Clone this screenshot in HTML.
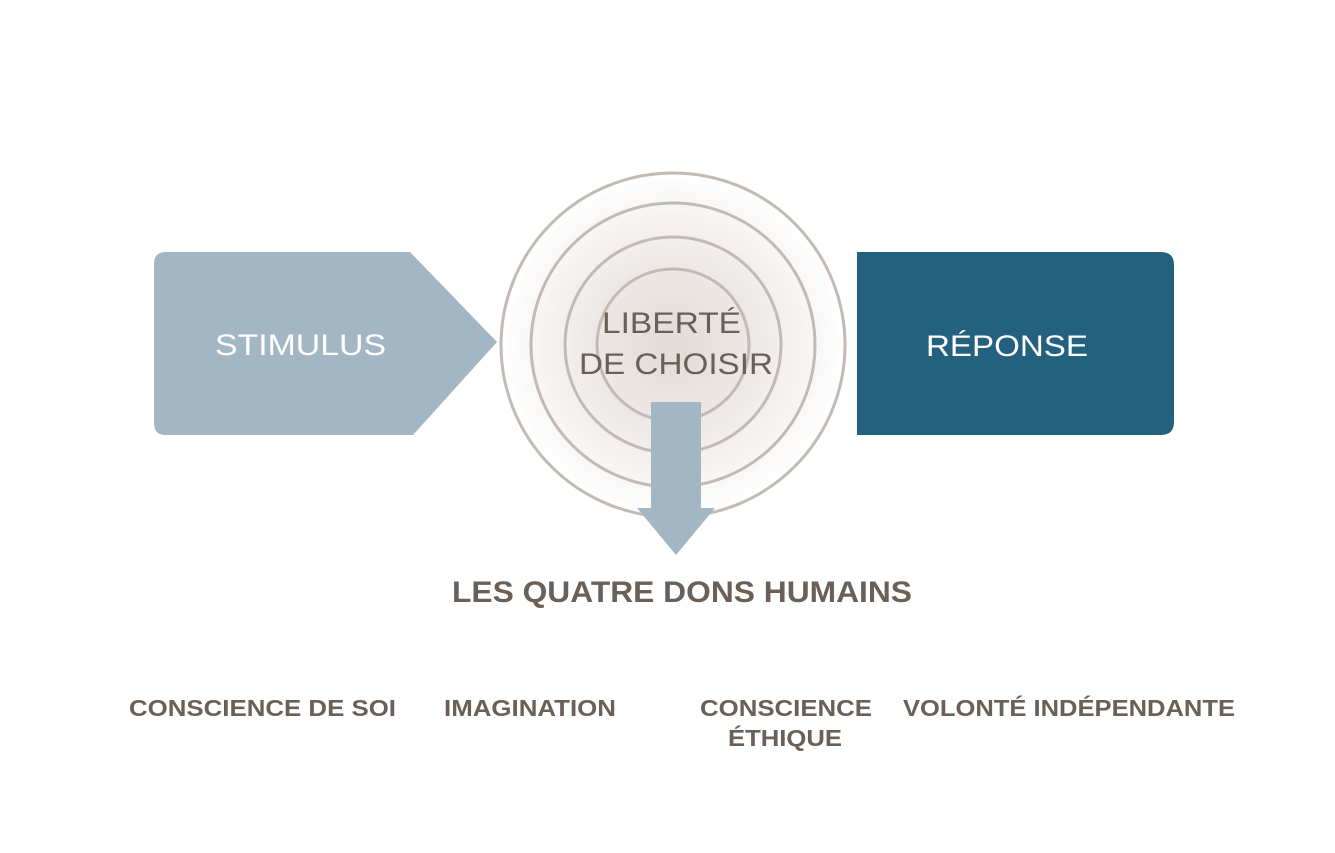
<!DOCTYPE html>
<html><head><meta charset="utf-8"><style>
html,body{margin:0;padding:0;background:#fff;}
svg{display:block;}
text{font-family:"Liberation Sans",sans-serif;}
</style></head><body>
<svg width="1335" height="853" viewBox="0 0 1335 853" xmlns="http://www.w3.org/2000/svg">
<defs>
<radialGradient id="g" cx="673" cy="345" r="172" gradientUnits="userSpaceOnUse">
<stop offset="0" stop-color="#e2dbd6"/>
<stop offset="0.55" stop-color="#efebe8"/>
<stop offset="1" stop-color="#ffffff"/>
</radialGradient>
</defs>
<rect width="1335" height="853" fill="#fff"/>
<path d="M166 252 H410 L497 342 L413 435 H166 Q154 435 154 423 V264 Q154 252 166 252 Z" fill="#a3b6c4"/>
<text x="215" y="355" font-size="30" fill="#fff" textLength="171" lengthAdjust="spacingAndGlyphs">STIMULUS</text>
<path d="M857 252 H1161 Q1174 252 1174 265 V422 Q1174 435 1161 435 H857 Z" fill="#23617f"/>
<text x="926" y="356" font-size="30" fill="#fff" textLength="162" lengthAdjust="spacingAndGlyphs">RÉPONSE</text>
<circle cx="673" cy="345" r="172" fill="url(#g)" stroke="#c3bab5" stroke-width="3"/>
<circle cx="673" cy="345" r="142" fill="none" stroke="#c3bab5" stroke-width="3"/>
<circle cx="673" cy="345" r="108" fill="none" stroke="#c3bab5" stroke-width="3"/>
<circle cx="673" cy="345" r="76" fill="none" stroke="#c3bab5" stroke-width="3"/>
<text x="602" y="333" font-size="30" fill="#6b6058" textLength="139" lengthAdjust="spacingAndGlyphs">LIBERTÉ</text>
<text x="579" y="374" font-size="30" fill="#6b6058" textLength="194" lengthAdjust="spacingAndGlyphs">DE CHOISIR</text>
<path d="M651 402 H701 V508 H715 L676 555 L637 508 H651 Z" fill="#a3b6c4"/>
<text x="452" y="602" font-size="30" font-weight="bold" fill="#6b6058" textLength="460" lengthAdjust="spacingAndGlyphs">LES QUATRE DONS HUMAINS</text>
<g font-size="23" font-weight="bold" fill="#6b6058">
<text x="129" y="716" textLength="267" lengthAdjust="spacingAndGlyphs">CONSCIENCE DE SOI</text>
<text x="444" y="716" textLength="172" lengthAdjust="spacingAndGlyphs">IMAGINATION</text>
<text x="700" y="716" textLength="172" lengthAdjust="spacingAndGlyphs">CONSCIENCE</text>
<text x="728" y="746" textLength="114" lengthAdjust="spacingAndGlyphs">ÉTHIQUE</text>
<text x="903" y="716" textLength="332" lengthAdjust="spacingAndGlyphs">VOLONTÉ INDÉPENDANTE</text>
</g>
</svg>
</body></html>
